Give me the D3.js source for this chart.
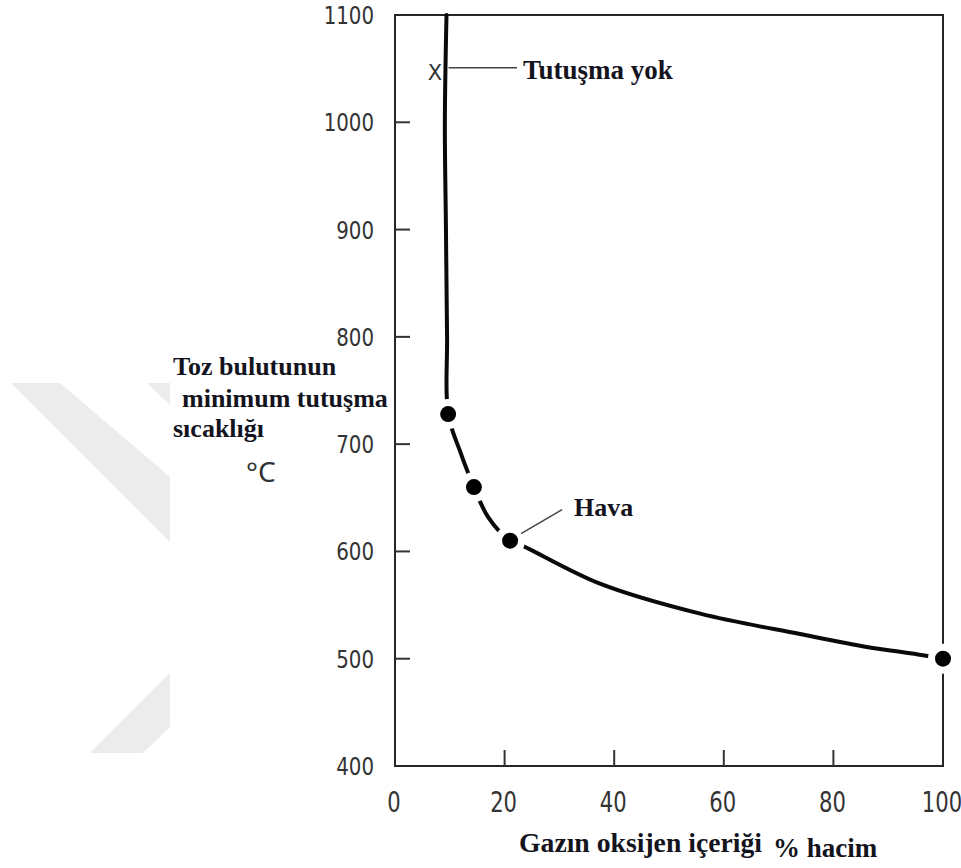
<!DOCTYPE html>
<html>
<head>
<meta charset="utf-8">
<script src="https://cdn.jsdelivr.net/npm/d3@7"></script>
<style>
  body { margin: 0; background: #fff; }
  .tick-lbl { font-family: "DejaVu Sans Condensed", "Liberation Sans Narrow", sans-serif; fill: #333; }
  .serif { font-family: "Liberation Serif", "Times New Roman", serif; font-weight: bold; fill: #14141e; }
</style>
</head>
<body>
<div id="chart"></div>
<script>
// ---------------------------
// Data
// ---------------------------

// curve: oxygen content (% vol) vs minimum ignition temperature (°C)
var curveOxygen = [9.4, 9.1, 9.3, 9.5, 9.7, 11.9, 14.4, 17.0, 21.0, 23.4, 37.4, 55.7, 73.9, 86.1, 95.4, 100];
var curveTemp   = [1100, 1000, 900, 800, 728, 693, 660, 632, 610, 605, 570, 542, 523, 511, 504, 500];

// measured points (filled dots)
var dotOxygen = [9.7, 14.4, 21, 100];
var dotTemp   = [728, 660, 610, 500];

// no ignition point (X)
var noIgnOxygen = [7.3];
var noIgnTemp   = [1047];

var xTicks = [0, 20, 40, 60, 80, 100];
var yTicks = [400, 500, 600, 700, 800, 900, 1000, 1100];

// ---------------------------
// Layout
// ---------------------------

var totwidth = 961, totheight = 868;
var plotLeft = 395, plotRight = 943, plotTop = 15, plotBottom = 766;

var svg = d3.select("#chart").append("svg")
    .attr("width", totwidth)
    .attr("height", totheight);

// faint watermark behind the y label
var wm = svg.append("g").attr("fill", "#ececec");
wm.append("polygon").attr("points", "11,383 60,383 170,477 170,542");
wm.append("polygon").attr("points", "147,383 170,383 170,405");
wm.append("polygon").attr("points", "170,673 90,753 143,753 170,727");

var x = d3.scaleLinear().domain([0, 100]).range([plotLeft, plotRight]);
var y = d3.scaleLinear().domain([400, 1100]).range([plotBottom, plotTop]);

// frame
svg.append("rect")
    .attr("x", x(0)).attr("y", y(1100))
    .attr("width", x(100) - x(0))
    .attr("height", y(400) - y(1100))
    .attr("fill", "none")
    .attr("stroke", "#262626")
    .attr("stroke-width", 2);

// inner ticks (corners carry no tick)
svg.append("g")
    .selectAll("line")
    .data(yTicks.slice(1, -1))
    .enter().append("line")
      .attr("x1", x(0)).attr("x2", x(0) + 15)
      .attr("y1", function(d) { return y(d); })
      .attr("y2", function(d) { return y(d); })
      .attr("stroke", "#333").attr("stroke-width", 2);

svg.append("g")
    .selectAll("line")
    .data(xTicks.slice(1, -1))
    .enter().append("line")
      .attr("x1", function(d) { return x(d); })
      .attr("x2", function(d) { return x(d); })
      .attr("y1", y(400)).attr("y2", y(400) - 16)
      .attr("stroke", "#333").attr("stroke-width", 2);

// tick labels (condensed digits, stretched a little to look like the stencil font)
svg.append("g")
    .selectAll("text")
    .data(yTicks)
    .enter().append("text")
      .attr("class", "tick-lbl")
      .attr("transform", function(d) {
        return "translate(" + (x(0) - 21) + "," + (y(d) + 9) + ") scale(1,1.13)";
      })
      .attr("text-anchor", "end")
      .attr("font-size", 22)
      .text(function(d) { return d; });

svg.append("g")
    .selectAll("text")
    .data(xTicks)
    .enter().append("text")
      .attr("class", "tick-lbl")
      .attr("transform", function(d) {
        return "translate(" + (x(d) - 1) + "," + (y(400) + 46) + ") scale(1,1.2)";
      })
      .attr("text-anchor", "middle")
      .attr("font-size", 23.5)
      .text(function(d) { return d; });

// curve
var line = d3.line()
    .x(function(d) { return x(d[0]); })
    .y(function(d) { return y(d[1]); })
    .curve(d3.curveCatmullRom.alpha(0.5));

svg.append("path")
    .datum(d3.zip(curveOxygen, curveTemp))
    .attr("d", line)
    .attr("fill", "none")
    .attr("stroke", "#0a0a0a")
    .attr("stroke-width", 4)
    .attr("stroke-linecap", "round");

// white halos give the gaps around each dot
var dots = d3.zip(dotOxygen, dotTemp);

svg.append("g")
    .selectAll("circle")
    .data(dots)
    .enter().append("circle")
      .attr("cx", function(d) { return x(d[0]); })
      .attr("cy", function(d) { return y(d[1]); })
      .attr("r", 15)
      .attr("fill", "#fff");

svg.append("g")
    .selectAll("circle")
    .data(dots)
    .enter().append("circle")
      .attr("cx", function(d) { return x(d[0]); })
      .attr("cy", function(d) { return y(d[1]); })
      .attr("r", 8)
      .attr("fill", "#000");

// no ignition marker
var noIgn = d3.zip(noIgnOxygen, noIgnTemp);
svg.append("g")
    .selectAll("text")
    .data(noIgn)
    .enter().append("text")
      .attr("x", function(d) { return x(d[0]); })
      .attr("y", function(d) { return y(d[1]) + 8; })
      .attr("text-anchor", "middle")
      .attr("font-family", "'DejaVu Sans', sans-serif")
      .attr("font-size", 21)
      .attr("fill", "#333")
      .text("X");

// "Tutuşma yok" leader + label
var ny = y(noIgnTemp[0]) - 4;
svg.append("line")
    .attr("x1", x(curveOxygen[0]) + 2).attr("x2", 517)
    .attr("y1", ny).attr("y2", ny)
    .attr("stroke", "#444").attr("stroke-width", 1.5);

svg.append("text")
    .attr("class", "serif")
    .attr("x", 523).attr("y", ny + 11)
    .attr("font-size", 27)
    .text("Tutuşma yok");

// "Hava" (air) leader + label
var hx = x(dotOxygen[2]), hy = y(dotTemp[2]);
svg.append("line")
    .attr("x1", hx + 11).attr("y1", hy - 7)
    .attr("x2", hx + 52).attr("y2", hy - 31)
    .attr("stroke", "#444").attr("stroke-width", 1.5);

svg.append("text")
    .attr("class", "serif")
    .attr("x", hx + 64).attr("y", hy - 25)
    .attr("font-size", 26)
    .text("Hava");

// y axis title
var ylab = svg.append("text")
    .attr("class", "serif")
    .attr("font-size", 26);
ylab.append("tspan").attr("x", 173).attr("y", 375).text("Toz bulutunun");
ylab.append("tspan").attr("x", 182).attr("y", 407).text("minimum tutuşma");
ylab.append("tspan").attr("x", 173).attr("y", 437).text("sıcaklığı");

svg.append("text")
    .attr("x", 246).attr("y", 482)
    .attr("font-family", "'Noto Sans', 'Open Sans', sans-serif")
    .attr("font-size", 28)
    .attr("fill", "#333")
    .text("°C");

// x axis title
svg.append("text")
    .attr("class", "serif")
    .attr("x", 519).attr("y", 852)
    .attr("font-size", 27.7)
    .text("Gazın oksijen içeriği");

svg.append("text")
    .attr("class", "serif")
    .attr("x", 773).attr("y", 857)
    .attr("font-size", 27)
    .text("% hacim");
</script>
</body>
</html>
